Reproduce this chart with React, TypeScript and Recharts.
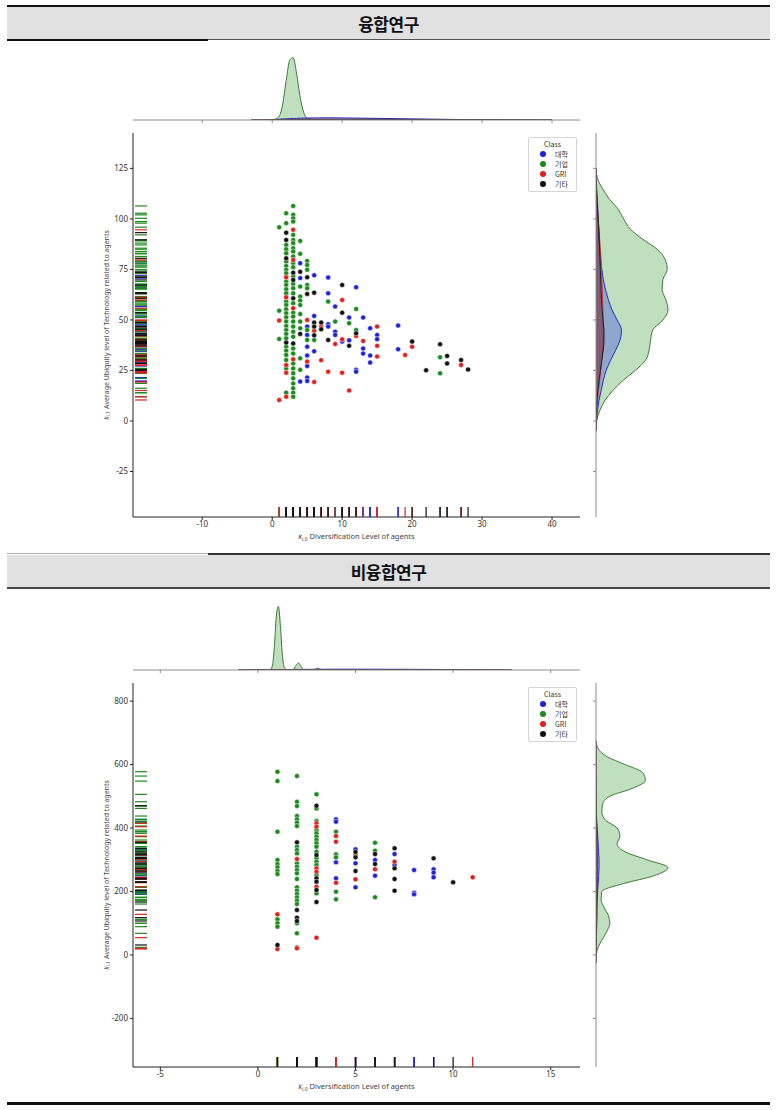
import React from 'react';
import { ScatterChart, Scatter, ComposedChart, Area, XAxis, YAxis, Legend, Label } from 'recharts';

const classNames = ['대학', '기업', 'GRI', '기타'];
const dotColors = ['#1f22d6', '#1b8a1b', '#e0201c', '#111111'];
const kdeFill = ['#0000ff', '#008000', '#ff0000', '#000000'];
const kdeLine = ['#2a2ad0', '#3d7a34', '#c83a3a', '#222222'];

// 융합연구: y values (k_i,1) per x column (k_i,0)
const convUniv: Record<number, number[]> = {
  4: [78.1, 70.7, 19.5],
  5: [46.7, 42.6, 36.8, 32.4, 27.2, 21.5, 19.8],
  6: [72.1, 52.0, 34.5],
  8: [71.0, 63.2, 47.9, 46.7],
  9: [56.6, 44.2, 42.6],
  10: [39.3],
  11: [51.2, 39.9],
  12: [66.2, 25.3, 24.4],
  13: [51.2, 35.9, 33.4],
  14: [45.9, 32.4, 28.9],
  15: [42.6, 40.5],
  18: [47.2, 35.5],
};
const convFirm: Record<number, number[]> = {
  1: [95.9, 54.6, 40.6],
  2: [102.8, 97.9, 87.1, 85.0, 83.0, 78.9, 76.7, 74.8, 73.1, 69.0, 67.3, 65.2, 63.2, 59.1, 57.4, 55.3, 53.3, 51.3, 49.2, 47.0, 45.0, 43.1, 40.9, 36.8, 34.8, 32.7, 30.2, 26.0, 14.0],
  3: [106.4, 102.0, 100.3, 98.7, 92.1, 89.6, 88.0, 85.5, 83.9, 81.4, 78.1, 76.1, 71.5, 67.8, 65.7, 63.2, 58.3, 53.6, 51.7, 49.2, 46.7, 44.2, 41.7, 35.9, 33.4, 28.5, 26.0, 23.6, 21.1, 18.6, 16.2, 14.0, 12.0],
  4: [89.1, 82.7, 66.5, 61.6, 59.6, 57.4, 52.9, 49.2, 45.9, 31.0, 25.3],
  5: [79.2, 77.2, 74.8, 67.3, 65.7, 45.0, 40.1],
  6: [40.1],
  8: [59.1],
  9: [49.2],
  11: [48.4],
  12: [55.4, 45.0],
  24: [31.6, 23.6],
};
const convGri: Record<number, number[]> = {
  1: [49.7, 10.4],
  2: [71.1, 61.2, 27.7, 23.9, 12.0],
  3: [94.6, 79.7, 55.8, 30.5],
  5: [50.0, 29.4],
  6: [44.7, 19.3],
  7: [46.7, 30.1],
  8: [24.4],
  9: [38.1],
  10: [59.9, 40.4, 23.9],
  11: [15.1],
  12: [42.1],
  13: [39.6],
  15: [46.7, 37.2, 31.9],
  19: [32.7],
  20: [36.8],
  27: [27.7],
};
const convEtc: Record<number, number[]> = {
  2: [93.2, 89.6, 80.5, 38.8],
  3: [73.4, 69.8, 60.7, 38.4],
  4: [73.8, 43.1],
  5: [71.1, 62.9],
  6: [63.5, 48.7, 46.7, 42.4],
  7: [48.7, 45.4],
  8: [40.1],
  10: [67.3, 53.6],
  11: [37.2],
  12: [43.4],
  20: [39.3],
  22: [25.1],
  24: [38.0],
  25: [32.2, 28.5],
  27: [30.2],
  28: [25.5],
};

// 비융합연구
const nonUniv: Record<number, number[]> = {
  4: [427.3, 420.0, 291.9, 241.5],
  5: [332.8, 288.7, 213.1],
  6: [299.2, 249.9],
  7: [318.1, 283.5],
  8: [267.7, 196.3, 191.0],
  9: [269.8, 259.3, 244.6],
};
const nonFirm: Record<number, number[]> = {
  1: [577.4, 548.0, 388.5, 299.2, 286.6, 276.1, 264.6, 255.1, 112.3, 99.7, 89.2],
  2: [563.8, 482.9, 469.3, 437.8, 427.3, 416.8, 406.3, 341.2, 330.7, 320.2, 288.7, 278.2, 267.7, 257.2, 239.4, 213.1, 202.6, 192.1, 181.6, 171.1, 160.6, 99.7, 68.2, 24.1],
  3: [506.1, 461.9, 422.0, 393.7, 383.2, 372.7, 362.2, 351.7, 341.2, 325.5, 304.4, 293.9, 283.4, 251.9, 194.2],
  4: [388.5, 317.1, 307.6, 199.5, 175.3],
  6: [353.8, 328.6, 181.6],
};
const nonGri: Record<number, number[]> = {
  1: [128.1, 18.9],
  2: [302.4, 21.0],
  3: [414.7, 404.2, 272.9, 262.4, 215.2, 54.6],
  4: [374.8, 357.0, 227.8],
  5: [315.0, 238.3],
  6: [269.8],
  7: [294.0],
  11: [244.6],
};
const nonEtc: Record<number, number[]> = {
  1: [31.5],
  2: [354.9, 141.7, 117.6, 107.1],
  3: [470.3, 315.0, 241.5, 230.9, 204.7, 166.9],
  5: [324.4, 307.6, 264.6],
  6: [318.1, 286.6],
  7: [336.0, 273.0, 239.4, 202.6],
  9: [304.4],
  10: [228.9],
};

// marginal densities (대학, 기업, GRI, 기타)
const convTopGrid = [-3, -1, 0, 0.5, 1, 1.5, 2, 2.5, 3, 3.5, 4, 4.5, 5, 6, 8, 10, 12, 15, 20, 25, 30, 35, 40];
const convTopUniv = [0, 0.004, 0.008, 0.01, 0.013, 0.016, 0.019, 0.022, 0.024, 0.026, 0.028, 0.03, 0.031, 0.033, 0.034, 0.033, 0.03, 0.026, 0.017, 0.009, 0.004, 0.001, 0];
const convTopFirm = [0, 0, 0.003, 0.015, 0.06, 0.25, 0.62, 0.94, 0.98, 0.72, 0.36, 0.12, 0.03, 0.008, 0.005, 0.004, 0.003, 0.003, 0.002, 0.002, 0.001, 0, 0];
const convTopGri = [0, 0.002, 0.004, 0.005, 0.006, 0.007, 0.008, 0.009, 0.009, 0.01, 0.01, 0.01, 0.011, 0.011, 0.011, 0.01, 0.009, 0.008, 0.005, 0.003, 0.001, 0, 0];
const convTopEtc = [0, 0.001, 0.002, 0.003, 0.004, 0.005, 0.006, 0.007, 0.008, 0.008, 0.009, 0.009, 0.01, 0.011, 0.012, 0.012, 0.012, 0.011, 0.01, 0.009, 0.006, 0.002, 0];

const convSideGrid = [-5, 0, 5, 10, 15, 20, 25, 30, 35, 40, 45, 50, 55, 60, 65, 70, 75, 80, 85, 90, 95, 100, 105, 110, 115, 120, 125];
const convSideUniv = [0, 0.005, 0.02, 0.04, 0.07, 0.1, 0.14, 0.2, 0.27, 0.33, 0.35, 0.29, 0.22, 0.17, 0.13, 0.1, 0.08, 0.06, 0.05, 0.04, 0.035, 0.03, 0.025, 0.02, 0.01, 0.003, 0];
const convSideFirm = [0, 0.01, 0.05, 0.12, 0.23, 0.37, 0.54, 0.68, 0.73, 0.75, 0.78, 0.92, 0.99, 0.96, 0.91, 0.92, 0.98, 0.95, 0.84, 0.64, 0.47, 0.38, 0.3, 0.18, 0.09, 0.02, 0];
const convSideGri = [0, 0.004, 0.01, 0.02, 0.035, 0.05, 0.065, 0.08, 0.09, 0.1, 0.1, 0.1, 0.095, 0.09, 0.085, 0.08, 0.075, 0.07, 0.06, 0.05, 0.04, 0.03, 0.02, 0.01, 0.005, 0, 0];
const convSideEtc = [0, 0.002, 0.006, 0.012, 0.025, 0.04, 0.06, 0.08, 0.1, 0.11, 0.11, 0.095, 0.085, 0.075, 0.07, 0.065, 0.06, 0.055, 0.05, 0.045, 0.04, 0.03, 0.02, 0.01, 0.004, 0, 0];

const nonTopGrid = [-1, 0, 0.5, 0.65, 0.75, 0.85, 0.95, 1.05, 1.15, 1.25, 1.35, 1.5, 1.8, 1.95, 2.08, 2.2, 2.35, 2.8, 2.95, 3.05, 3.15, 3.4, 4, 5, 7, 9, 11, 13];
const nonTopUniv = [0, 0.003, 0.005, 0.005, 0.006, 0.006, 0.006, 0.007, 0.007, 0.007, 0.007, 0.008, 0.008, 0.009, 0.009, 0.009, 0.01, 0.011, 0.011, 0.012, 0.012, 0.012, 0.013, 0.013, 0.012, 0.009, 0.004, 0];
const nonTopFirm = [0, 0, 0.002, 0.01, 0.08, 0.4, 0.88, 1.0, 0.7, 0.25, 0.04, 0.004, 0.005, 0.07, 0.11, 0.06, 0.006, 0.003, 0.015, 0.03, 0.015, 0.003, 0.002, 0.001, 0, 0, 0, 0];
const nonTopGri = [0, 0.002, 0.003, 0.003, 0.003, 0.004, 0.004, 0.004, 0.004, 0.004, 0.004, 0.004, 0.004, 0.004, 0.004, 0.004, 0.004, 0.004, 0.004, 0.004, 0.004, 0.004, 0.004, 0.003, 0.003, 0.002, 0.002, 0];
const nonTopEtc = [0, 0.001, 0.002, 0.002, 0.002, 0.003, 0.003, 0.003, 0.003, 0.003, 0.003, 0.003, 0.003, 0.003, 0.004, 0.004, 0.004, 0.004, 0.004, 0.004, 0.004, 0.004, 0.004, 0.004, 0.004, 0.004, 0.002, 0];

const nonSideGrid = [-25, 0, 25, 50, 75, 100, 125, 150, 175, 200, 225, 250, 275, 300, 325, 350, 375, 400, 425, 450, 475, 500, 525, 550, 575, 600, 625, 650, 675];
const nonSideUniv = [0, 0, 0, 0.003, 0.006, 0.008, 0.01, 0.012, 0.016, 0.022, 0.03, 0.037, 0.042, 0.042, 0.036, 0.03, 0.024, 0.016, 0.009, 0.004, 0.002, 0, 0, 0, 0, 0, 0, 0, 0];
const nonSideFirm = [0, 0.005, 0.03, 0.09, 0.15, 0.19, 0.17, 0.11, 0.07, 0.08, 0.38, 0.8, 0.99, 0.7, 0.4, 0.29, 0.33, 0.29, 0.13, 0.08, 0.09, 0.19, 0.5, 0.68, 0.64, 0.4, 0.15, 0.03, 0];
const nonSideGri = [0, 0.002, 0.004, 0.006, 0.008, 0.009, 0.009, 0.009, 0.008, 0.008, 0.009, 0.01, 0.01, 0.01, 0.009, 0.008, 0.007, 0.006, 0.005, 0.004, 0.003, 0.002, 0.001, 0, 0, 0, 0, 0, 0];
const nonSideEtc = [0, 0.001, 0.003, 0.005, 0.007, 0.009, 0.011, 0.012, 0.012, 0.013, 0.014, 0.015, 0.015, 0.015, 0.014, 0.013, 0.012, 0.01, 0.008, 0.006, 0.004, 0.003, 0.002, 0.001, 0, 0, 0, 0, 0];

const convTicksX = [-10, 0, 10, 20, 30, 40];
const convTicksY = [-25, 0, 25, 50, 75, 100, 125];
const nonTicksX = [-5, 0, 5, 10, 15];
const nonTicksY = [-200, 0, 200, 400, 600, 800];

const FONT = "'Noto Sans', 'DejaVu Sans', sans-serif";
const KR = "'Noto Sans CJK KR', 'Noto Sans', sans-serif";
const keys = ['b', 'g', 'r', 'k'];

type Pt = { x: number; y: number };
const toPoints = (cols: Record<number, number[]>): Pt[] =>
  Object.entries(cols).flatMap(([x, ys]) => ys.map((y) => ({ x: Number(x), y })));

const toTable = (key: string, grid: number[], series: number[][]) =>
  grid.map((v, i) => {
    const row: Record<string, number> = { [key]: v };
    series.forEach((s, j) => (row[keys[j]] = s[i]));
    return row;
  });

const dot = (color: string) => (p: any) =>
  <circle cx={p.cx} cy={p.cy} r={2.5} fill={color} stroke="#ffffff" strokeWidth={0.5} />;
const rugBottom = (color: string) => (p: any) =>
  <line x1={p.cx} x2={p.cx} y1={p.cy} y2={p.cy - 10} stroke={color} strokeWidth={1.2} />;
const rugLeft = (color: string) => (p: any) =>
  <line x1={p.cx + 2} x2={p.cx + 14} y1={p.cy} y2={p.cy} stroke={color} strokeWidth={1.2} />;

const XTitle = (props: any) => {
  const vb = props.viewBox || { x: 93, y: 389, width: 447 };
  return (
    <text x={vb.x + vb.width / 2} y={vb.y + 22} textAnchor="middle" fontSize={7.5} fill="#444" fontFamily={FONT}>
      <tspan fontStyle="italic">k</tspan>
      <tspan fontSize={5} dy={1.5}>i,0</tspan>
      <tspan dy={-1.5}> Diversification Level of agents</tspan>
    </text>
  );
};

const YTitle = (props: any) => {
  const vb = props.viewBox || { x: 0, y: 5, height: 384 };
  const cx = vb.x + 66;
  const cy = vb.y + vb.height / 2;
  return (
    <text x={cx} y={cy} transform={`rotate(-90 ${cx} ${cy})`} textAnchor="middle" dominantBaseline="central"
      fontSize={7} fill="#444" fontFamily={FONT}>
      <tspan fontStyle="italic">k</tspan>
      <tspan fontSize={5} dy={1.5}>i,1</tspan>
      <tspan dy={-1.5}> Average Ubiquity level of Technology related to agents</tspan>
    </text>
  );
};

const ClassLegend = () => (
  <div style={{ width: 47, border: '1px solid #d4d4d4', borderRadius: 2, background: '#fff', padding: '1px 0 2px', fontFamily: KR, fontSize: 7, color: '#333' }}>
    <div style={{ textAlign: 'center', lineHeight: '10px', height: 10 }}>Class</div>
    {classNames.map((c, i) => (
      <div key={c} style={{ display: 'flex', alignItems: 'center', height: 10 }}>
        <span style={{ width: 6, height: 6, borderRadius: 3, background: dotColors[i], marginLeft: 11 }} />
        <span style={{ marginLeft: 9, lineHeight: '10px' }}>{c}</span>
      </div>
    ))}
  </div>
);

const noLabel = () => '';
const tickStyle = { fontSize: 8, fill: '#333', fontFamily: FONT };

interface PanelProps {
  dy: number;
  groups: Pt[][];
  xDomain: [number, number];
  yDomain: [number, number];
  xTicks: number[];
  yTicks: number[];
  topKde: Record<string, number>[];
  sideKde: Record<string, number>[];
}

const JointPanel = ({ dy, groups, xDomain, yDomain, xTicks, yTicks, topKde, sideKde }: PanelProps) => {
  const areas = [1, 0, 2, 3].map((i) => (
    <Area key={keys[i]} type="monotone" dataKey={keys[i]} stroke={kdeLine[i]} strokeWidth={1}
      fill={kdeFill[i]} fillOpacity={0.25} dot={false} activeDot={false} isAnimationActive={false} />
  ));
  return (
    <>
      <div style={{ position: 'absolute', left: 133, top: dy + 50 }}>
        <ComposedChart width={447} height={75} data={topKde} margin={{ top: 0, right: 0, bottom: 0, left: 0 }}>
          <XAxis dataKey="x" type="number" domain={xDomain} allowDataOverflow ticks={xTicks} interval={0}
            tickFormatter={noLabel} height={5} tickSize={3} stroke="#8c8c8c" />
          <YAxis hide type="number" domain={[0, 1.1]} allowDataOverflow />
          {areas}
        </ComposedChart>
      </div>

      <div style={{ position: 'absolute', left: 590, top: dy + 133 }}>
        <ComposedChart layout="vertical" width={86} height={384} data={sideKde} margin={{ top: 0, right: 0, bottom: 0, left: 0 }}>
          <XAxis hide type="number" domain={[0, 1.1]} allowDataOverflow />
          <YAxis dataKey="v" type="number" domain={yDomain} allowDataOverflow reversed ticks={yTicks} interval={0}
            tickFormatter={noLabel} width={6} tickSize={3} stroke="#8c8c8c" />
          {areas}
        </ComposedChart>
      </div>

      <div style={{ position: 'absolute', left: 40, top: dy + 128 }}>
        <ScatterChart width={540} height={419} margin={{ top: 5, right: 0, bottom: 0, left: 0 }}>
          <XAxis dataKey="x" type="number" domain={xDomain} allowDataOverflow ticks={xTicks} interval={0}
            height={30} tickSize={3} tickMargin={1} stroke="#222" tick={tickStyle}>
            <Label content={(p: any) => <XTitle {...p} />} />
          </XAxis>
          <YAxis dataKey="y" type="number" domain={yDomain} allowDataOverflow ticks={yTicks} interval={0}
            width={93} tickSize={3} tickMargin={2} stroke="#222" tick={tickStyle}>
            <Label content={(p: any) => <YTitle {...p} />} />
          </YAxis>
          {groups.map((pts, i) => (
            <Scatter key={'d' + i} name={classNames[i]} data={pts} shape={dot(dotColors[i])} isAnimationActive={false} />
          ))}
          {groups.map((pts, i) => (
            <Scatter key={'rx' + i} data={pts.map((p) => ({ x: p.x, y: yDomain[0] }))} shape={rugBottom(dotColors[i])}
              isAnimationActive={false} legendType="none" />
          ))}
          {groups.map((pts, i) => (
            <Scatter key={'ry' + i} data={pts.map((p) => ({ x: xDomain[0], y: p.y }))} shape={rugLeft(dotColors[i])}
              isAnimationActive={false} legendType="none" />
          ))}
          <Legend layout="horizontal" verticalAlign="middle" align="center" content={() => <ClassLegend />}
            wrapperStyle={{ left: 488, top: 9, width: 49 }} />
        </ScatterChart>
      </div>
    </>
  );
};

const Rule = ({ x, y, w, h, c }: { x: number; y: number; w: number; h: number; c: string }) => (
  <div style={{ position: 'absolute', left: x, top: y, width: w, height: h, background: c }} />
);

const Header = ({ top, title }: { top: number; title: string }) => (
  <div style={{ position: 'absolute', left: 7, top, width: 763, height: 32, background: '#e1e1e1', display: 'flex',
    alignItems: 'center', justifyContent: 'center', fontFamily: KR, fontWeight: 700, fontSize: 17, color: '#111', letterSpacing: -0.5 }}>
    {title}
  </div>
);

const convGroups = [convUniv, convFirm, convGri, convEtc].map(toPoints);
const nonGroups = [nonUniv, nonFirm, nonGri, nonEtc].map(toPoints);

export default function App() {
  return (
    <div style={{ position: 'absolute', left: 0, top: 0, width: 780, height: 1110, background: '#fff', overflow: 'hidden' }}>
      <Rule x={7} y={5} w={763} h={2} c="#111" />
      <Header top={7} title="융합연구" />
      <Rule x={7} y={39} w={201} h={2} c="#111" />
      <Rule x={208} y={39} w={562} h={1} c="#555" />

      <JointPanel dy={0} groups={convGroups} xDomain={[-19.9, 44]} yDomain={[-47.5, 142.5]}
        xTicks={convTicksX} yTicks={convTicksY}
        topKde={toTable('x', convTopGrid, [convTopUniv, convTopFirm, convTopGri, convTopEtc])}
        sideKde={toTable('v', convSideGrid, [convSideUniv, convSideFirm, convSideGri, convSideEtc])} />

      <Rule x={7} y={553} w={201} h={1} c="#aaa" />
      <Rule x={208} y={553} w={562} h={2} c="#333" />
      <Header top={555} title="비융합연구" />
      <Rule x={7} y={587} w={763} h={2} c="#444" />

      <JointPanel dy={550} groups={nonGroups} xDomain={[-6.4, 16.5]} yDomain={[-353, 857]}
        xTicks={nonTicksX} yTicks={nonTicksY}
        topKde={toTable('x', nonTopGrid, [nonTopUniv, nonTopFirm, nonTopGri, nonTopEtc])}
        sideKde={toTable('v', nonSideGrid, [nonSideUniv, nonSideFirm, nonSideGri, nonSideEtc])} />

      <Rule x={7} y={1102} w={763} h={3} c="#111" />
    </div>
  );
}
